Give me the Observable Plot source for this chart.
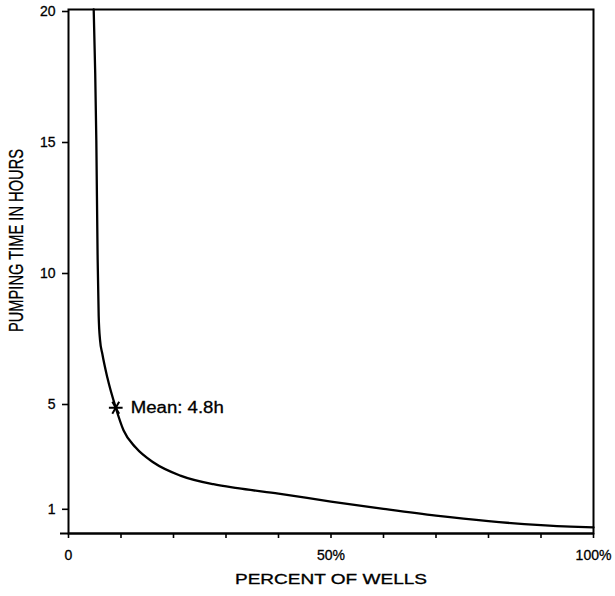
<!DOCTYPE html>
<html>
<head>
<meta charset="utf-8">
<script src="https://cdn.jsdelivr.net/npm/d3@7"></script>
<script src="https://cdn.jsdelivr.net/npm/@observablehq/plot@0.6"></script>
<style>
  html, body { margin: 0; padding: 0; background: #fff; }
  #chart svg { display: block; }
  #chart svg text { stroke: black; stroke-width: 0.3px; }
</style>
</head>
<body>
<div id="chart"></div>
<script>
// Cumulative pumping-time curve: share of wells vs. hours of pumping
const percentOfWells = [4.8, 5.3, 5.55, 5.75, 6.0, 6.45, 7.4, 9.0, 10.5, 12.8, 16.2, 21.3, 27.6, 32.2, 40.0, 50.0, 60.0, 70.0, 80.0, 90.0, 95.6, 100];
const pumpingHours   = [20, 15, 10.5, 8.3, 7.4, 6.85, 5.95, 4.8, 3.93, 3.28, 2.71, 2.21, 1.88, 1.73, 1.52, 1.22, 0.94, 0.68, 0.47, 0.32, 0.26, 0.23];

const meanPercent = 9.0;
const meanHours = 4.8;

const yTicks = [1, 5, 10, 15, 20];
const xTicks = [0, 10, 20, 30, 40, 50, 60, 70, 80, 90, 100];
const xTickLabels = {0: "0", 50: "50%", 100: "100%"};

const yTitle = "PUMPING TIME IN HOURS";
const xTitle = "PERCENT OF WELLS";

const curve = percentOfWells.map((p, i) => ({pct: p, hours: pumpingHours[i]}));
const mean = [{pct: meanPercent, hours: meanHours, label: `Mean: ${meanHours}h`}];

const chart = Plot.plot({
  width: 615,
  height: 596,
  marginLeft: 68,
  marginRight: 22,
  marginTop: 9,
  marginBottom: 63,
  style: {fontFamily: "'Liberation Sans', Arial, sans-serif", fontSize: "14px", background: "white", color: "black", overflow: "visible"},
  x: {domain: [0, 100]},
  y: {domain: [0, 20]},
  marks: [
    Plot.frame({stroke: "black", strokeWidth: 2}),
    Plot.ruleY([0], {stroke: "black", strokeWidth: 2, insetLeft: -8}),
    Plot.axisY({ticks: yTicks, tickSize: 6, tickPadding: 7, strokeWidth: 1.6, label: null, fontSize: 14, dy: 2}),
    Plot.axisX({ticks: xTicks, tickSize: 5, tickPadding: 12, strokeWidth: 1.6, label: null, fontSize: 14,
      tickFormat: d => xTickLabels[d] ?? ""}),
    Plot.line(curve, {x: "pct", y: "hours", curve: "monotone-x", stroke: "black", strokeWidth: 2.3}),
    Plot.dot(mean, {x: "pct", y: "hours", symbol: "asterisk", r: 6.5, rotate: 90, stroke: "black", strokeWidth: 2}),
    Plot.text(mean, {x: "pct", y: "hours", text: "label", dx: 15, textAnchor: "start", fontSize: 16, fill: "black"}),
    Plot.text([yTitle], {frameAnchor: "left", textAnchor: "middle", rotate: -90, dx: -52, dy: -31, fontSize: 21, fill: "black"}),
    Plot.text([xTitle], {frameAnchor: "bottom", dy: 50.5, fontSize: 14, fill: "black"})
  ]
});

// fit the lettering widths of the titles and the mean label
d3.select(chart).selectAll("text").each(function() {
  const t = this.textContent;
  const target = t === xTitle ? 192 : t === yTitle ? 183 : t.startsWith("Mean") ? 93 : null;
  if (target) {
    this.setAttribute("textLength", target);
    this.setAttribute("lengthAdjust", "spacingAndGlyphs");
  }
});

document.getElementById("chart").appendChild(chart);
</script>
</body>
</html>
